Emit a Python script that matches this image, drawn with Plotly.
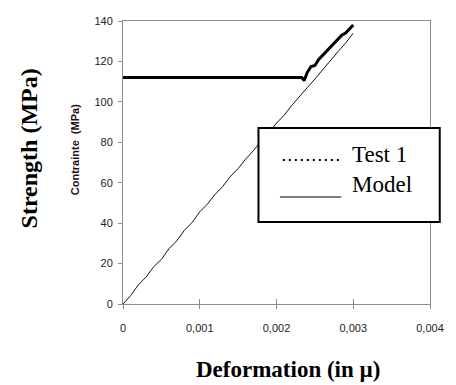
import plotly.graph_objects as go

# ---- data ----
model_x = [0, 0.0001, 0.0002, 0.0003, 0.0004, 0.0005, 0.0006, 0.0007, 0.0008, 0.0009,
           0.0010, 0.0011, 0.0012, 0.0013, 0.0014, 0.0015, 0.0016, 0.0017, 0.0018, 0.0019,
           0.0020, 0.0021, 0.0022, 0.0023, 0.0024, 0.0025, 0.0026, 0.0027, 0.0028, 0.0029, 0.0030]
model_y = [0, 4.2, 9.5, 13.3, 18.4, 22.1, 27.4, 31.2, 36.5, 40.3,
           45.6, 49.4, 54.3, 58.2, 63.1, 67.0, 71.8, 75.9, 80.6, 84.7,
           89.5, 93.4, 98.3, 102.4, 107.0, 111.3, 115.9, 120.2, 124.8, 129.1, 134.0]

test_x = [0, 0.00233, 0.00236, 0.00240, 0.00245, 0.00250, 0.00255, 0.00260, 0.00265,
          0.00270, 0.00275, 0.00280, 0.00285, 0.00290, 0.00295, 0.00300]
test_y = [112, 112, 110.5, 114.5, 117.5, 118.0, 121.0, 123.0, 125.0,
          127.5, 129.0, 131.5, 133.0, 134.0, 136.0, 138.0]

x_tickvals = [0, 0.001, 0.002, 0.003, 0.004]
x_ticktext = ["0", "0,001", "0,002", "0,003", "0,004"]
y_tickvals = [0, 20, 40, 60, 80, 100, 120, 140]
legend_labels = ["Test 1", "Model"]

# ---- figure ----
W, H = 456, 385
L, R, T, B = 123, 438, 21, 304  # plot area in window pixels

def px(xp):
    return (xp - L) / (R - L)

def py(yp):
    return (B - yp) / (B - T)

fig = go.Figure()
fig.add_trace(go.Scatter(x=model_x, y=model_y, mode="lines",
                         line=dict(color="#111111", width=1), showlegend=False))
fig.add_trace(go.Scatter(x=test_x, y=test_y, mode="lines",
                         line=dict(color="#000000", width=3), showlegend=False))

axis_gray = "#8c8c8c"
fig.update_layout(
    width=W, height=H,
    margin=dict(l=L, r=W - R, t=T, b=H - B),
    plot_bgcolor="white", paper_bgcolor="white",
    showlegend=False,
    xaxis=dict(range=[0, 0.004], tickvals=x_tickvals, ticktext=x_ticktext,
               showgrid=False, zeroline=False, showline=True, linecolor=axis_gray,
               linewidth=1, mirror=True, ticks="outside", ticklen=4, tickcolor=axis_gray,
               tickfont=dict(family="Arial, Liberation Sans", size=11, color="#222222"),
               ticklabelstandoff=10),
    xaxis2=dict(range=[0, 0.004], overlaying="x", matches="x", tickvals=x_tickvals,
                showticklabels=False, showgrid=False, zeroline=False, showline=False,
                ticks="inside", ticklen=5, tickcolor=axis_gray, side="bottom"),
    yaxis=dict(range=[0, 140], tickvals=y_tickvals,
               showgrid=False, zeroline=False, showline=True, linecolor=axis_gray,
               linewidth=1, mirror=True, ticks="outside", ticklen=4, tickcolor=axis_gray,
               tickfont=dict(family="Arial, Liberation Sans", size=11, color="#222222"),
               ticklabelstandoff=3),
)
# invisible trace to activate xaxis2 (cross ticks)
fig.add_trace(go.Scatter(x=[0], y=[0], xaxis="x2", mode="markers",
                         marker=dict(opacity=0), showlegend=False, hoverinfo="skip"))

# legend box (custom)
fig.add_shape(type="rect", xref="paper", yref="paper",
              x0=px(262), x1=px(448), y0=py(222), y1=py(128),
              line=dict(color="black", width=2), fillcolor="white", layer="above")
fig.add_shape(type="line", xref="paper", yref="paper",
              x0=px(287), x1=px(347), y0=py(160), y1=py(160),
              line=dict(color="black", width=2, dash="2px,4px"), layer="above")
fig.add_shape(type="line", xref="paper", yref="paper",
              x0=px(284), x1=px(347), y0=py(197), y1=py(197),
              line=dict(color="black", width=1), layer="above")
serif = "Times New Roman, Liberation Serif, serif"
fig.add_annotation(xref="paper", yref="paper", x=px(356), y=py(154), xanchor="left",
                   yanchor="middle", text=legend_labels[0], showarrow=False,
                   font=dict(family=serif, size=23, color="black"))
fig.add_annotation(xref="paper", yref="paper", x=px(356), y=py(184), xanchor="left",
                   yanchor="middle", text=legend_labels[1], showarrow=False,
                   font=dict(family=serif, size=23, color="black"))

# axis titles
fig.add_annotation(xref="paper", yref="paper", x=px(27), y=py(148), textangle=-90,
                   xanchor="center", yanchor="middle",
                   text="<b>Strength (MPa)</b>", showarrow=False,
                   font=dict(family=serif, size=24, color="black"))
fig.add_annotation(xref="paper", yref="paper", x=px(74), y=py(150), textangle=-90,
                   xanchor="center", yanchor="middle",
                   text="<b>Contrainte  (MPa)</b>", showarrow=False,
                   font=dict(family="Arial, Liberation Sans", size=11, color="#2a0c0c"))
fig.add_annotation(xref="paper", yref="paper", x=px(292), y=py(369),
                   xanchor="center", yanchor="middle",
                   text="<b>Deformation (in µ)</b>", showarrow=False,
                   font=dict(family=serif, size=23, color="black"))

fig.write_html("out.html", config={"displayModeBar": False},
               post_script="document.body.style.margin='0';document.body.style.overflow='hidden';")
